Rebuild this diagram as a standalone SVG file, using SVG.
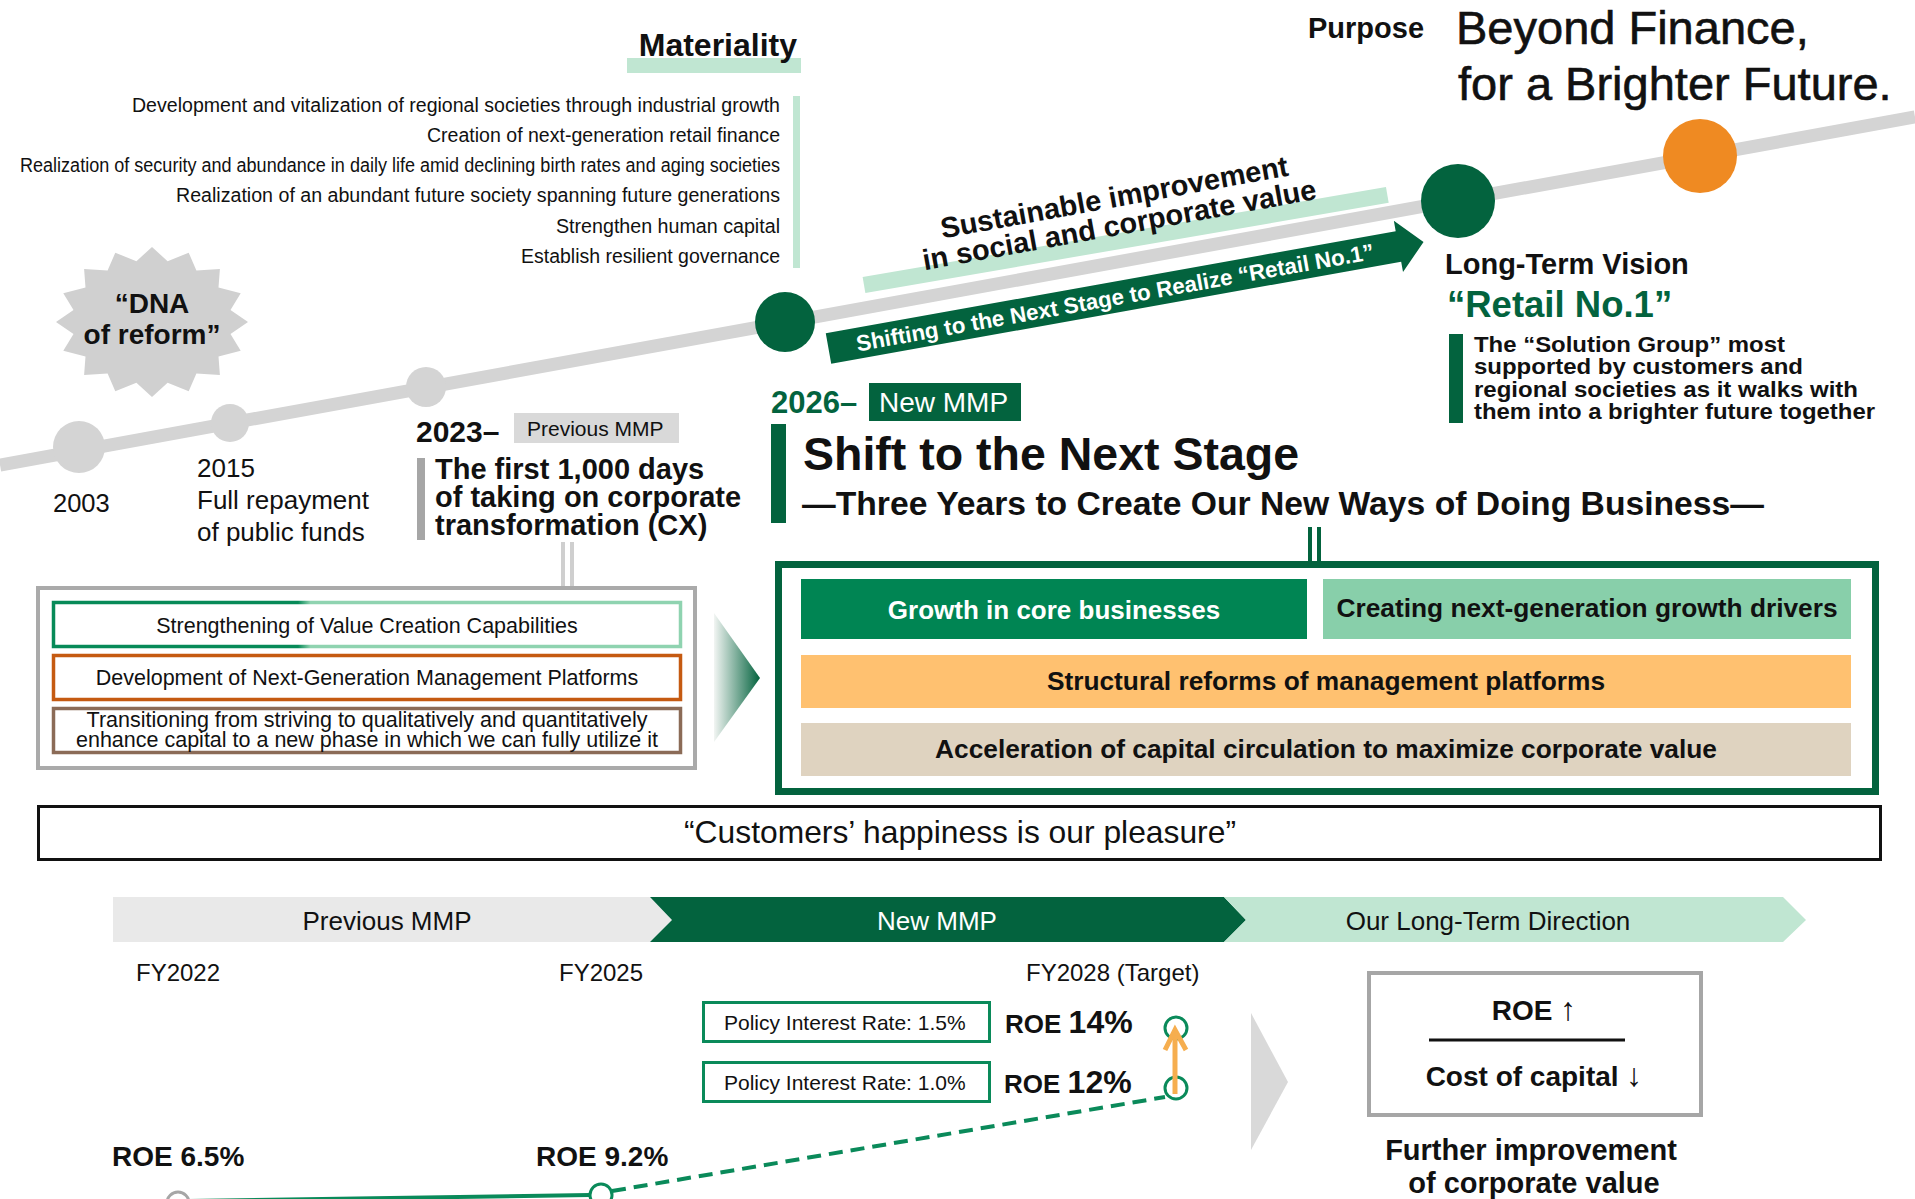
<svg xmlns="http://www.w3.org/2000/svg" width="1915" height="1199" viewBox="0 0 1915 1199">
<defs>
<style>
text{font-family:"Liberation Sans",Arial,"DejaVu Sans",sans-serif;fill:#111}
.b{font-weight:bold}
.mat{font-size:20px;text-anchor:end}
.box{font-size:21.5px;text-anchor:middle}
.c{text-anchor:middle}
.w{fill:#fff}
.g{fill:#03633e}
</style>
<linearGradient id="gb" x1="0" y1="0" x2="1" y2="0">
<stop offset="0" stop-color="#078a58"/><stop offset="0.39" stop-color="#078a58"/><stop offset="0.41" stop-color="#8fd3b0"/><stop offset="1" stop-color="#8fd3b0"/>
</linearGradient>
<linearGradient id="chev" x1="0" y1="0" x2="1" y2="0">
<stop offset="0" stop-color="#f2f5f3"/><stop offset="1" stop-color="#03633e"/>
</linearGradient>
</defs>
<rect width="1915" height="1199" fill="#fff"/>

<!-- timeline -->
<g id="timeline">
<line x1="0" y1="465" x2="1915" y2="117" stroke="#d4d4d4" stroke-width="13"/>
<circle cx="79" cy="447" r="26" fill="#d4d4d4"/>
<circle cx="230" cy="423" r="19" fill="#d4d4d4"/>
<circle cx="426" cy="387" r="20" fill="#d4d4d4"/>
<circle cx="785" cy="322" r="30" fill="#03633e"/>
<circle cx="1458" cy="201" r="37" fill="#03633e"/>
<circle cx="1700" cy="156" r="37" fill="#ef8a22"/>
</g>

<!-- materiality -->
<g id="materiality">
<rect x="627" y="58" width="174" height="15" fill="#c0e6d2"/>
<text x="797" y="56" class="b" font-size="32" text-anchor="end">Materiality</text>
<rect x="793" y="96" width="7" height="172" fill="#c0e6d2"/>
<text x="780" y="112" class="mat" textLength="648" lengthAdjust="spacingAndGlyphs">Development and vitalization of regional societies through industrial growth</text>
<text x="780" y="142" class="mat" textLength="353" lengthAdjust="spacingAndGlyphs">Creation of next-generation retail finance</text>
<text x="780" y="172" class="mat" textLength="760" lengthAdjust="spacingAndGlyphs">Realization of security and abundance in daily life amid declining birth rates and aging societies</text>
<text x="780" y="202" class="mat" textLength="604" lengthAdjust="spacingAndGlyphs">Realization of an abundant future society spanning future generations</text>
<text x="780" y="233" class="mat" textLength="224" lengthAdjust="spacingAndGlyphs">Strengthen human capital</text>
<text x="780" y="263" class="mat" textLength="259" lengthAdjust="spacingAndGlyphs">Establish resilient governance</text>
</g>

<!-- DNA of reform -->
<g id="dna">
<polygon fill="#d0d0d0" points="152,247 167.6,261.2 188.7,252.7 196.4,270.4 219.9,269 218.5,287.6 240.7,293.3 230.5,309.9 248,322 230.5,334.1 240.7,350.7 218.5,356.4 219.9,375 196.4,373.6 188.7,391.3 167.6,382.8 152,397 136.4,382.8 115.3,391.3 107.6,373.6 84.1,375 85.5,356.4 63.3,350.7 73.5,334.1 56,322 73.5,309.9 63.3,293.3 85.5,287.6 84.1,269 107.6,270.4 115.3,252.7 136.4,261.2"/>
<text x="152" y="313" class="b c" font-size="28">“DNA</text>
<text x="152" y="344" class="b c" font-size="28">of reform”</text>
</g>

<!-- purpose -->
<g id="purpose">
<text x="1308" y="38" class="b" font-size="29">Purpose</text>
<text x="1456" y="44" font-size="47" stroke="#111" stroke-width="0.6">Beyond Finance,</text>
<text x="1458" y="100" font-size="47" stroke="#111" stroke-width="0.6">for a Brighter Future.</text>
</g>

<!-- sustainable band & arrow -->
<g id="sustainable">
<rect x="0" y="-8" width="531" height="16" fill="#c0e6d2" transform="translate(864,285) rotate(-9.76)"/>
<g transform="translate(1116,207) rotate(-10.3)">
<text x="0" y="0" class="b c" font-size="29">Sustainable improvement</text>
<text x="0" y="28" class="b c" font-size="29">in social and corporate value</text>
</g>
</g>
<g id="shift-arrow" transform="translate(828.5,348.5) rotate(-10.15)">
<polygon class="g" points="0,-15.5 579,-15.5 579,-26 604.5,0 579,26 579,15.5 0,15.5"/>
<text x="291" y="8" class="b c w" font-size="22.3">Shifting to the Next Stage to Realize “Retail No.1”</text>
</g>

<!-- long-term vision -->
<g id="vision">
<text x="1445" y="274" class="b" font-size="29">Long-Term Vision</text>
<text x="1447" y="317" class="b g" font-size="36.5">“Retail No.1”</text>
<rect x="1449" y="334" width="14" height="89" fill="#03633e"/>
<text x="1474" y="352" class="b" font-size="22.5" textLength="311" lengthAdjust="spacingAndGlyphs">The “Solution Group” most</text>
<text x="1474" y="374" class="b" font-size="22.5" textLength="329" lengthAdjust="spacingAndGlyphs">supported by customers and</text>
<text x="1474" y="397" class="b" font-size="22.5" textLength="384" lengthAdjust="spacingAndGlyphs">regional societies as it walks with</text>
<text x="1474" y="419" class="b" font-size="22.5" textLength="401" lengthAdjust="spacingAndGlyphs">them into a brighter future together</text>
</g>

<!-- history labels -->
<g id="history">
<text x="53" y="512" font-size="25.5">2003</text>
<text x="197" y="477" font-size="26">2015</text>
<text x="197" y="509" font-size="26">Full repayment</text>
<text x="197" y="541" font-size="26">of public funds</text>
</g>

<!-- previous MMP -->
<g id="prev-mmp">
<text x="416" y="442" class="b" font-size="30">2023–</text>
<rect x="514" y="413" width="165" height="30" fill="#d9d9d9"/>
<text x="527" y="436" font-size="21">Previous MMP</text>
<rect x="417" y="458" width="8" height="82" fill="#a6a6a6"/>
<text x="435" y="479" class="b" font-size="29">The first 1,000 days</text>
<text x="435" y="507" class="b" font-size="29">of taking on corporate</text>
<text x="435" y="535" class="b" font-size="29">transformation (CX)</text>
</g>

<g id="prev-box">
<rect x="38" y="588" width="657" height="180" fill="#fff" stroke="#aaaaaa" stroke-width="4"/>
<rect x="53.5" y="602.5" width="627" height="44" fill="#fff" stroke="url(#gb)" stroke-width="3.5"/>
<text x="367" y="633" class="box">Strengthening of Value Creation Capabilities</text>
<rect x="53.5" y="655.5" width="627" height="44" fill="#fff" stroke="#c55a11" stroke-width="3.5"/>
<text x="367" y="685" class="box">Development of Next-Generation Management Platforms</text>
<rect x="53.5" y="708.5" width="627" height="44" fill="#fff" stroke="#8b6b57" stroke-width="3.5"/>
<text x="367" y="727" class="box">Transitioning from striving to qualitatively and quantitatively</text>
<text x="367" y="747" class="box">enhance capital to a new phase in which we can fully utilize it</text>
</g>

<!-- new MMP -->
<g id="new-mmp">
<text x="771" y="413" class="b g" font-size="31">2026–</text>
<rect x="869" y="383" width="152" height="38" fill="#03633e"/>
<text x="879" y="412" class="w" font-size="28">New MMP</text>
<rect x="771" y="424" width="15" height="99" fill="#03633e"/>
<text x="803" y="470" class="b" font-size="46.5">Shift to the Next Stage</text>
<text x="802" y="515" class="b" font-size="33" textLength="962" lengthAdjust="spacingAndGlyphs">—Three Years to Create Our New Ways of Doing Business—</text>
</g>

<g id="new-box">
<rect x="778.5" y="564.5" width="1097" height="227" fill="#fff" stroke="#03633e" stroke-width="7"/>
<rect x="801" y="579" width="506" height="60" fill="#008553"/>
<text x="1054" y="619" class="b c w" font-size="26">Growth in core businesses</text>
<rect x="1323" y="579" width="528" height="60" fill="#88cfaa"/>
<text x="1587" y="617" class="b c" font-size="26.3">Creating next-generation growth drivers</text>
<rect x="801" y="655" width="1050" height="53" fill="#ffc170"/>
<text x="1326" y="690" class="b c" font-size="26.3">Structural reforms of management platforms</text>
<rect x="801" y="723" width="1050" height="53" fill="#dfd3c0"/>
<text x="1326" y="758" class="b c" font-size="26.3">Acceleration of capital circulation to maximize corporate value</text>
</g>

<!-- connectors -->
<g id="connectors">
<line x1="563" y1="542" x2="563" y2="586" stroke="#cfcfcf" stroke-width="4"/>
<line x1="572" y1="542" x2="572" y2="586" stroke="#cfcfcf" stroke-width="4"/>
<line x1="1310" y1="527" x2="1310" y2="562" stroke="#03633e" stroke-width="4"/>
<line x1="1319" y1="527" x2="1319" y2="562" stroke="#03633e" stroke-width="4"/>
<polygon points="714,613 760,678 714,742" fill="url(#chev)"/>
<polygon points="1251,1013 1288,1082 1251,1150" fill="#d9d9d9"/>
</g>

<!-- quote -->
<g id="quote">
<rect x="38.5" y="806.5" width="1842" height="53" fill="#fff" stroke="#111" stroke-width="3"/>
<text x="960" y="843" class="c" font-size="31.8">“Customers’ happiness is our pleasure”</text>
</g>

<!-- bottom phases -->
<g id="phases">
<polygon points="113,897 650,897 672,920 650,942 113,942" fill="#e9e9e9"/>
<polygon points="650,897 1224,897 1246,920 1224,942 650,942 672,920" fill="#03633e"/>
<polygon points="1224,897 1783,897 1806,920 1783,942 1224,942 1246,920" fill="#c0e6d2"/>
<text x="387" y="930" class="c" font-size="26">Previous MMP</text>
<text x="937" y="930" class="c w" font-size="26">New MMP</text>
<text x="1488" y="930" class="c" font-size="26">Our Long-Term Direction</text>
<text x="136" y="981" font-size="24">FY2022</text>
<text x="559" y="981" font-size="24">FY2025</text>
<text x="1026" y="981" font-size="24">FY2028 (Target)</text>
</g>

<!-- ROE chart -->
<g id="roe-chart">
<rect x="703.5" y="1002.5" width="286" height="39" fill="#fff" stroke="#0a8a5a" stroke-width="3"/>
<text x="724" y="1030" font-size="21">Policy Interest Rate: 1.5%</text>
<rect x="703.5" y="1062.5" width="286" height="39" fill="#fff" stroke="#0a8a5a" stroke-width="3"/>
<text x="724" y="1090" font-size="21">Policy Interest Rate: 1.0%</text>
<text x="1005" y="1033" class="b"><tspan font-size="26">ROE </tspan><tspan font-size="32">14%</tspan></text>
<text x="1004" y="1093" class="b"><tspan font-size="26">ROE </tspan><tspan font-size="32">12%</tspan></text>
<text x="112" y="1166" class="b" font-size="28">ROE 6.5%</text>
<text x="536" y="1166" class="b" font-size="28">ROE 9.2%</text>
<line x1="189" y1="1201" x2="590" y2="1195" stroke="#0a8a5a" stroke-width="4"/>
<line x1="612" y1="1191" x2="1165" y2="1097" stroke="#0a8a5a" stroke-width="4" stroke-dasharray="14 8"/>
<circle cx="178" cy="1203" r="11" fill="#fff" stroke="#a6a6a6" stroke-width="3"/>
<circle cx="601" cy="1195" r="11" fill="#fff" stroke="#0a8a5a" stroke-width="3"/>
<circle cx="1176" cy="1028" r="11" fill="#fff" stroke="#0a8a5a" stroke-width="3"/>
<circle cx="1176" cy="1088" r="11" fill="#fff" stroke="#0a8a5a" stroke-width="3"/>
<line x1="1175" y1="1094" x2="1175" y2="1031" stroke="#f6ae4f" stroke-width="5"/>
<polyline points="1165,1050 1175,1030 1186,1050" fill="none" stroke="#f6ae4f" stroke-width="5"/>
</g>

<g id="roe-box">
<rect x="1369" y="973" width="332" height="142" fill="#fff" stroke="#a6a6a6" stroke-width="4"/>
<text x="1534" y="1020" class="b c" font-size="28">ROE <tspan font-weight="normal" font-size="32">↑</tspan></text>
<line x1="1429" y1="1040" x2="1625" y2="1040" stroke="#111" stroke-width="3"/>
<text x="1534" y="1086" class="b c" font-size="28">Cost of capital <tspan font-weight="normal" font-size="32">↓</tspan></text>
<text x="1531" y="1160" class="b c" font-size="29">Further improvement</text>
<text x="1534" y="1193" class="b c" font-size="29">of corporate value</text>
</g>
</svg>
